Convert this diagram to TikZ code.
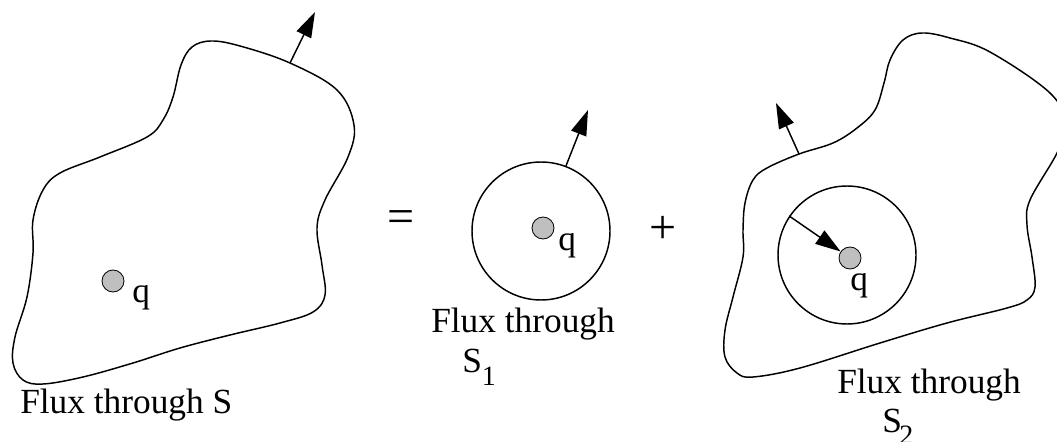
\documentclass[tikz,border=0pt]{standalone}
\usepackage{fontspec}
\setmainfont{Liberation Serif}
\usetikzlibrary{arrows.meta}
\begin{document}
\begin{tikzpicture}[x=0.75pt,y=-0.75pt,
  surf/.style={line width=1.1pt, line join=round},
  normalarrow/.style={line width=1.1pt, -{Triangle[length=19pt,width=12pt]}},
  sphere/.style={circle, draw, line width=1.1pt, minimum size=103.5pt, inner sep=0pt},
  charge/.style={circle, draw, line width=0.6pt, fill=black!25, minimum size=16.5pt, inner sep=0pt},
  lbl/.style={font=\fontsize{26.5}{30}\selectfont, inner sep=0pt, anchor=base west},
  op/.style={font=\fontsize{36}{40}\selectfont, inner sep=0pt}]
\useasboundingbox (0,0) rectangle (1057,442);

% left surface S
\draw[surf] plot[smooth cycle, tension=0.6] coordinates {
 (211,41) (240,46) (290,63) (337,90) (354,125) (348,157) (325,200) (317,228)
 (322,265) (325,295) (313,312) (280,323) (230,335) (180,348) (133,363) (83,377) (43,384)
 (23,380) (13,363) (15,337) (27,297) (33,253) (33,220) (43,190)
 (60,173) (100,157) (147,137) (163,120) (173,97) (181,65) (192,47)};
\coordinate (n0s) at (290,63);
\coordinate (n0e) at (315,12);
\draw[normalarrow] (n0s) -- (n0e);
\node[charge] (d0) at (113,281) {};
\node[lbl] (q0) at (132,302) {q};
\node[lbl] (t0) at (20,413) {Flux through S};

% equals
\node[op] (eq) at (401,222) {=};

% middle sphere S1
\node[sphere] (c1) at (541,231) {};
\coordinate (n1e) at (588,110);
\draw[normalarrow] (c1.69) -- (n1e);
\node[charge] (d1) at (543,228) {};
\node[lbl] (q1) at (558,250) {q};
\node[lbl] (t1) at (431,332) {Flux through};
\node[lbl] (s1) at (462,372) {S\raisebox{-9.75pt}{\fontsize{21}{24}\selectfont 1}};

% plus
\node[op] (plus) at (663,230) {+};

% right surface S2
\draw[surf] plot[smooth cycle, tension=0.6] coordinates {
 (922,33) (950,38) (990,52) (1050,93) (1066,125) (1057,153) (1030,200) (1027,225)
 (1032,257) (1035,287) (1027,300) (1007,308) (947,323) (880,343)
 (800,368) (753,377) (737,373) (725,357) (725,330) (733,297) (743,257)
 (743,230) (745,203) (753,180) (767,168) (799,154) (833,143) (857,128)
 (875,110) (884,83) (890,60) (903,40)};
\coordinate (n2s) at (799,154);
\coordinate (n2e) at (776,103);
\draw[normalarrow] (n2s) -- (n2e);
\node[sphere] (c2) at (847,255) {};
\node[charge] (d2) at (850,258) {};
\draw[normalarrow] (c2.146) -- (d2);
\node[lbl] (q2) at (850,290) {q};
\node[lbl] (t2) at (837,393) {Flux through};
\node[lbl] (s2) at (882,432) {S\hspace{-2pt}\raisebox{-9pt}{\fontsize{21}{24}\selectfont 2}};
\end{tikzpicture}
\end{document}
